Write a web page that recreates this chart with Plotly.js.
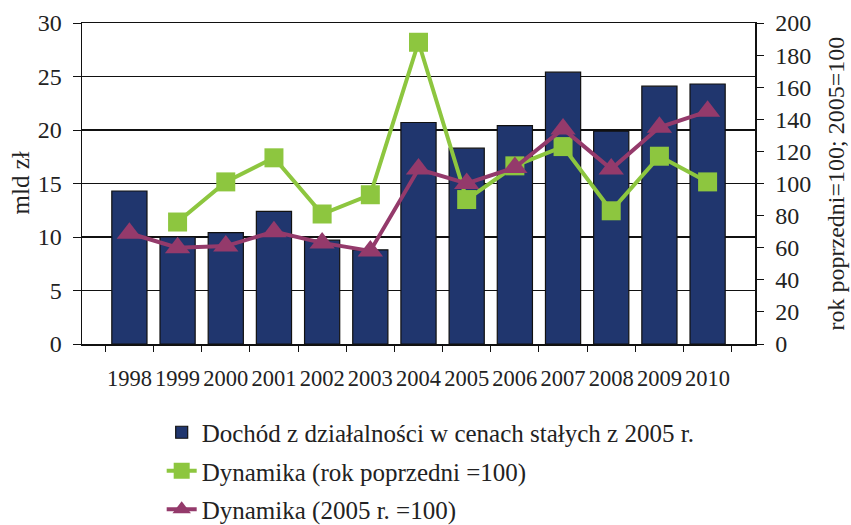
<!DOCTYPE html>
<html>
<head>
<meta charset="utf-8">
<script src="https://cdn.plot.ly/plotly-3.0.1.min.js"></script>
<style>html,body{margin:0;padding:0;background:#fff;}#chart{width:851px;height:525px;}</style>
</head>
<body>
<div id="chart"></div>
<script>
const years = ['1998','1999','2000','2001','2002','2003','2004','2005','2006','2007','2008','2009','2010'];
const income = [14.3, 10.0, 10.4, 12.4, 9.7, 8.8, 20.7, 18.3, 20.4, 25.4, 19.9, 24.1, 24.3];
const dynPrev = [null, 76, 101, 116, 81, 93, 188, 90, 111, 123, 83, 117, 101];
const dyn2005 = [69, 60, 61, 70, 63, 58, 109, 100, 110, 134, 109, 135, 145];
const leftTitle = 'mld zł';
const rightTitle = 'rok poprzedni=100; 2005=100';

const font = '"Times New Roman", "Liberation Serif", serif';

const traces = [
  {
    type: 'bar', x: years, y: income, name: 'Dochód z działalności w cenach stałych z 2005 r.',
    marker: {color: '#20366e', line: {color: '#111', width: 1.2}},
    legendgroup: 'a', yaxis: 'y'
  },
  {
    type: 'scatter', mode: 'lines+markers', x: years, y: dynPrev, yaxis: 'y2',
    name: 'Dynamika (rok poprzedni =100)', legendgroup: 'b',
    line: {color: '#8dc63f', width: 4},
    marker: {symbol: 'square', size: 19, color: '#8dc63f'},
    connectgaps: false
  },
  {
    type: 'scatter', mode: 'lines+markers', x: years, y: dyn2005, yaxis: 'y2',
    name: 'Dynamika (2005 r. =100)', legendgroup: 'c',
    line: {color: '#943a6b', width: 4},
    marker: {symbol: 'triangle-up', size: 22, color: '#943a6b'}
  }
];

const layout = {
  width: 851, height: 525,
  margin: {l: 82, r: 96, t: 23, b: 181, autoexpand: false},
  paper_bgcolor: '#fff', plot_bgcolor: '#fff',
  font: {family: font, color: '#222', size: 22},
  bargap: 0.27,
  showlegend: true,
  legend: {
    orientation: 'v', xref: 'container', yref: 'container',
    x: 0.19, xanchor: 'left', y: 0.22, yanchor: 'top',
    font: {family: font, size: 25, color: '#222'},
    tracegroupgap: 3, bgcolor: 'rgba(0,0,0,0)'
  },
  xaxis: {
    type: 'category', tickson: 'boundaries', ticks: 'outside', ticklen: 6, tickangle: 0,
    ticklabelstandoff: 13, mirror: true,
    tickcolor: '#111', showline: true, linecolor: '#111', linewidth: 1.5,
    showgrid: false, tickfont: {family: font, size: 22.5, color: '#222'}
  },
  yaxis: {
    range: [0, 30], dtick: 5, ticks: 'outside', ticklen: 8, tickcolor: '#111',
    ticklabelstandoff: 6,
    showline: true, linecolor: '#111', linewidth: 1.5,
    showgrid: true, gridcolor: '#111', gridwidth: 1.3, zeroline: false,
    tickfont: {family: font, size: 24, color: '#222'}
  },
  yaxis2: {
    range: [0, 200], dtick: 20, overlaying: 'y', side: 'right',
    ticks: 'outside', ticklen: 7, tickcolor: '#111', ticklabelstandoff: 7,
    showline: true, linecolor: '#111', linewidth: 1.5,
    showgrid: false, zeroline: false,
    tickfont: {family: font, size: 24, color: '#222'}
  },
  annotations: [
    {text: leftTitle, xref: 'paper', yref: 'paper', x: 0, y: 0.5, xshift: -62,
     textangle: -90, showarrow: false, xanchor: 'center', yanchor: 'middle',
     font: {family: font, size: 25, color: '#222'}},
    {text: rightTitle, xref: 'paper', yref: 'paper', x: 1, y: 0.5, xshift: 80,
     textangle: -90, showarrow: false, xanchor: 'center', yanchor: 'middle',
     font: {family: font, size: 24, color: '#222'}}
  ]
};

Plotly.newPlot('chart', traces, layout, {displayModeBar: false, staticPlot: true});
</script>
</body>
</html>
